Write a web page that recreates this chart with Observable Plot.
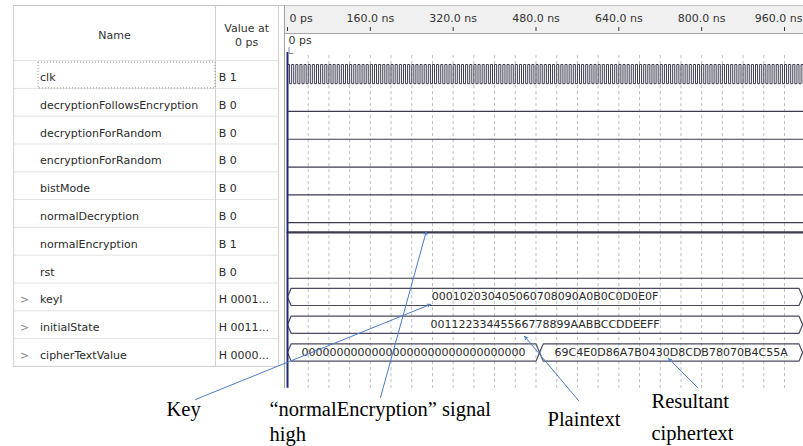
<!DOCTYPE html>
<html><head><meta charset="utf-8">
<script src="https://cdn.jsdelivr.net/npm/d3@7"></script>
<script src="https://cdn.jsdelivr.net/npm/@observablehq/plot@0.6"></script>
<style>
html,body{margin:0;padding:0;background:#fff;}
#chart svg{display:block;}
</style></head><body><div id="chart"></div>
<script>
// ---------------- data ----------------
const signalNames = ["clk","decryptionFollowsEncryption","decryptionForRandom","encryptionForRandom","bistMode","normalDecryption","normalEncryption","rst","keyI","initialState","cipherTextValue"];
const valuesAt0 = ["B 1","B 0","B 0","B 0","B 0","B 0","B 1","B 0","H 0001...","H 0011...","H 0000..."];
const expandable = [false,false,false,false,false,false,false,false,true,true,true];
const bitSignals = ["decryptionFollowsEncryption","decryptionForRandom","encryptionForRandom","bistMode","normalDecryption","normalEncryption","rst"];
const bitLevels = [0,0,0,0,0,1,0];
const clkPeriodNs = 8;
const busSignals = ["keyI","initialState","cipherTextValue","cipherTextValue"];
const busValues = ["000102030405060708090A0B0C0D0E0F","00112233445566778899AABBCCDDEEFF","00000000000000000000000000000000","69C4E0D86A7B0430D8CDB78070B4C55A"];
const busStartNs = [0,0,0,487];
const busEndNs = [995,995,487,995];
const timeTicksNs = [0,160,320,480,640,800,960];
const timeTickLabels = ["0 ps","160.0 ns","320.0 ns","480.0 ns","640.0 ns","800.0 ns","960.0 ns"];
const gridStepNs = 40;
const cursorLabel = "0 ps";
const headerName = "Name";
const headerValue = ["Value at","0 ps"];
const callouts = ["Key","“normalEncryption” signal\nhigh","Plaintext","Resultant\nciphertext"];
const calloutTargetSignal = ["keyI","normalEncryption","initialState","cipherTextValue"];
const calloutTargetNs = [276,268,458,736];

// ---------------- layout (data units: ns on x, signal rows on y) ----------------
const windowEnd = 996.7;
const L = {
  tableLeft:-529, chevronX:-508, nameX:-478, colDiv:-139, valueX:-133, tableRight:-17.4, panelLeft:-5.8,
  top:-2.48, headerBottom:-1.475, tableBottom:10.5, panelBottom:11.29, gridTop:-0.68
};
const rowIdx = s => signalNames.indexOf(s);
const HI = -0.32, LO = 0.33, BUS_H = 0.31, TAPER = 7;
const calloutPos = [
  {t:-233.7,u:12.30,gap:0, tail:[-177.7,11.69], dv:0.27},
  {t:-34.8,u:12.30,gap:0.9, tail:[179.6,11.62], dv:-0.35},
  {t:502.2,u:12.63,gap:0, tail:[562.1,11.73], dv:0.42},
  {t:703.1,u:11.98,gap:1.15, tail:[792,11.26], dv:0.22}
];

// derived mark data
const clkPts = [];
for (let k = 0; k * clkPeriodNs / 2 <= windowEnd; k++) clkPts.push({t: k * clkPeriodNs / 2, v: k % 2 === 0 ? 1 : 0});
clkPts.push({t: windowEnd, v: clkPts[clkPts.length-1].v});

const bitLines = [];
bitSignals.forEach((s,i)=>{ const u = rowIdx(s) + (bitLevels[i] ? HI : LO);
  bitLines.push({s,t:0,u,hi:bitLevels[i]},{s,t:windowEnd,u,hi:bitLevels[i]}); });

const busPts = [];
busValues.forEach((v,i)=>{ const c = rowIdx(busSignals[i]), s = busStartNs[i], e = busEndNs[i];
  [[s,c],[s+TAPER,c-BUS_H],[e-TAPER,c-BUS_H],[e,c],[e-TAPER,c+BUS_H],[s+TAPER,c+BUS_H],[s,c]]
    .forEach(([t,u])=>busPts.push({seg:i,t,u})); });

const grid = d3.range(gridStepNs, windowEnd, gridStepNs);
const rowBounds = d3.range(-0.5, signalNames.length, 1);

const calloutLines = [];
callouts.forEach((c,i)=>c.split("\n").forEach((line,j)=>calloutLines.push({line,t:calloutPos[i].t,u:calloutPos[i].u + j*calloutPos[i].gap})));
const arrows = callouts.map((c,i)=>({x1:calloutPos[i].tail[0], y1:calloutPos[i].tail[1], x2:calloutTargetNs[i], y2:rowIdx(calloutTargetSignal[i]) + calloutPos[i].dv}));

const lastTick = timeTicksNs.length - 1;
const tickLabelY = -1.871;
const waveColor = "#3b3b4d";
const chart = Plot.plot({
  width: 803, height: 446, margin: 0,
  x: {domain:[0,960], range:[287,784], axis:null},
  y: {domain:[-74/27.8, 372/27.8], range:[0,446], axis:null},
  style: {fontFamily:"DejaVu Sans", fontSize:"11px", background:"#fff"},
  marks: [
    // time header band
    Plot.rect([0], {x1:L.panelLeft, x2:windowEnd+5, y1:L.top, y2:L.headerBottom, fill:"#f0f0f0"}),
    Plot.ruleY([L.headerBottom], {x1:L.panelLeft, x2:windowEnd+5, stroke:"#a8a8a8"}),
    // table grid
    Plot.ruleY(rowBounds, {x1:L.tableLeft, x2:L.tableRight, stroke:"#e2e2e2"}),
    Plot.ruleY([L.top], {x1:L.tableLeft, x2:windowEnd+5, stroke:"#c4c4c4"}),
    Plot.ruleY([L.tableBottom], {x1:L.tableLeft, x2:L.tableRight, stroke:"#d0d0d0"}),
    Plot.ruleX([L.tableLeft, L.colDiv, L.tableRight], {y1:L.top, y2:L.tableBottom, stroke:"#d0d0d0"}),
    Plot.ruleX([L.panelLeft], {y1:L.top, y2:L.panelBottom, stroke:"#a0a0a8"}),
    Plot.rect([0], {x1:L.nameX-3, x2:L.colDiv, y1:-0.43, y2:0.5, fill:"none", stroke:"#888", strokeDasharray:"1,2"}),
    // table header
    Plot.text([headerName], {x:-334, y:-1.42, text:d=>d, fill:"#333"}),
    Plot.text(headerValue, {x:-79, y:(d,i)=>i===0?-1.655:-1.151, text:d=>d, fill:"#333"}),
    // table rows
    Plot.text(signalNames, {filter:(d,i)=>expandable[i], x:L.chevronX, y:(d,i)=>i, dy:3, text:()=>">", fill:"#888"}),
    Plot.text(signalNames, {x:L.nameX, y:(d,i)=>i, dy:3, text:d=>d, textAnchor:"start", fill:"#2a2a2a"}),
    Plot.text(valuesAt0, {x:L.valueX, y:(d,i)=>i, dy:3, text:d=>d, textAnchor:"start", fill:"#2a2a2a"}),
    // time axis
    Plot.ruleX(timeTicksNs, {y1:-1.69, y2:-1.55, stroke:"#333"}),
    Plot.text(timeTickLabels, {filter:(d,i)=>i===0, x:(d,i)=>timeTicksNs[i], dx:2, y:tickLabelY, text:d=>d, textAnchor:"start", lineAnchor:"bottom", fill:"#333"}),
    Plot.text(timeTickLabels, {filter:(d,i)=>i>0 && i<lastTick, x:(d,i)=>timeTicksNs[i], y:tickLabelY, text:d=>d, textAnchor:"middle", lineAnchor:"bottom", fill:"#333"}),
    Plot.text(timeTickLabels, {filter:(d,i)=>i===lastTick, x:windowEnd, dx:-1, y:tickLabelY, text:d=>d, textAnchor:"end", lineAnchor:"bottom", fill:"#333"}),
    // grid
    Plot.ruleX(grid, {y1:L.gridTop, y2:L.panelBottom, stroke:"#bdbdbd", strokeDasharray:"3,3"}),
    // waveforms
    Plot.line(clkPts, {x:"t", y:d=>rowIdx("clk") + (d.v ? -0.36 : LO), curve:"step-after", stroke:waveColor, strokeWidth:1}),
    Plot.line(bitLines, {x:"t", y:"u", z:"s", stroke:waveColor, strokeWidth:d=>d.hi?2.2:1.2}),
    Plot.line(busPts, {x:"t", y:"u", z:"seg", stroke:"#4a4a60", strokeWidth:1.2}),
    Plot.text(busValues, {x:(d,i)=>(busStartNs[i]+busEndNs[i])/2, y:(d,i)=>rowIdx(busSignals[i]), text:d=>d, fill:"#2a2a2a"}),
    // cursor
    Plot.ruleX([0], {y1:-0.79, y2:L.panelBottom, stroke:"#1e2a78", strokeWidth:2}),
    Plot.text([cursorLabel], {x:1.9, y:-1.115, text:d=>d, textAnchor:"start", lineAnchor:"bottom", fill:"#333"}),
    Plot.line([{t:2.9,u:-0.97},{t:2.9,u:-0.755},{t:10.6,u:-0.755}], {x:"t", y:"u", stroke:"#7a8cb0", strokeWidth:1}),
    // callouts
    Plot.arrow(arrows, {x1:"x1", y1:"y1", x2:"x2", y2:"y2", stroke:"#4a7bc8", strokeWidth:1, headLength:5, headAngle:50}),
    Plot.text(calloutLines, {x:"t", y:"u", text:"line", textAnchor:"start", lineAnchor:"bottom", fontFamily:"Liberation Serif", fontSize:20.5, fill:"#000"})
  ]
});
document.getElementById("chart").appendChild(chart);
</script>
</body></html>
